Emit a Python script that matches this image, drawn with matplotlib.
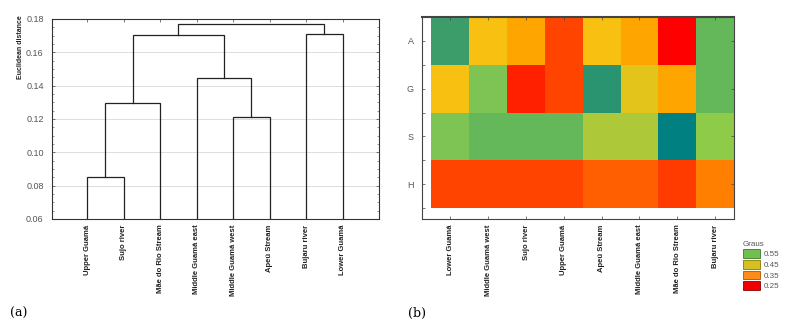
import numpy as np
import matplotlib
matplotlib.use("Agg")
import matplotlib.pyplot as plt
from matplotlib.colors import LinearSegmentedColormap, Normalize
from matplotlib.patches import Patch
from matplotlib.ticker import MultipleLocator

plt.rcParams["font.family"] = ["Liberation Sans", "DejaVu Sans"]

# ---------------- data ----------------
dendro_leaves = ["Upper Guamá", "Sujo river", "Mãe do Rio Stream", "Middle Guamá east",
                 "Middle Guamá west", "Apeú Stream", "Bujaru river", "Lower Guamá"]
# merges: (node a, node b, height); leaves are 0..7, new nodes numbered from 8
merge_a = [0, 8, 4, 3, 9, 6, 12]
merge_b = [1, 2, 5, 10, 11, 7, 13]
merge_h = [0.0852, 0.1298, 0.1214, 0.1444, 0.1702, 0.1710, 0.1768]

heat_cols = ["Lower Guamá", "Middle Guamá west", "Sujo river", "Upper Guamá",
             "Apeú Stream", "Middle Guamá east", "Mãe do Rio Stream", "Bujaru river"]
heat_rows = ["A", "G", "S", "H"]
row_A = [0.61, 0.44, 0.40, 0.30, 0.44, 0.40, 0.22, 0.56]
row_G = [0.44, 0.53, 0.26, 0.30, 0.63, 0.46, 0.40, 0.56]
row_S = [0.53, 0.56, 0.56, 0.56, 0.50, 0.50, 0.70, 0.52]
row_H = [0.30, 0.30, 0.30, 0.30, 0.33, 0.33, 0.29, 0.36]

legend_title = "Graus"
legend_labels = ["0.55", "0.45", "0.35", "0.25"]
legend_colors = ["#70c050", "#d4c020", "#ff8c1a", "#f00000"]
legend_edges = ["#3a7a2a", "#8a7a00", "#b05000", "#900000"]

# ---------------- figure ----------------
fig = plt.figure(figsize=(7.99, 3.28), dpi=100)
W, H = 799, 328

def ax_rect(l, r, t, b):
    return [l / W, (H - b) / H, (r - l) / W, (b - t) / H]

tick_col = "#555555"
lab_fs = 5.5
ytick_fs = 6.5

# ---- (a) dendrogram ----
ax1 = fig.add_axes(ax_rect(52, 379, 19, 219))
xpos = {i: float(i + 1) for i in range(len(dendro_leaves))}
ypos = {i: 0.06 for i in range(len(dendro_leaves))}
for k, (a, b, h) in enumerate(zip(merge_a, merge_b, merge_h)):
    xa, xb = xpos[a], xpos[b]
    ax1.plot([xa, xa, xb, xb], [ypos[a], h, h, ypos[b]], color="#222222", lw=0.9,
             solid_joinstyle="miter", zorder=3)
    node = len(dendro_leaves) + k
    xpos[node] = (xa + xb) / 2
    ypos[node] = h

ax1.set_xlim(0.04, 9.0)
ax1.set_ylim(0.06, 0.18)
ax1.yaxis.set_minor_locator(MultipleLocator(0.005))
yt = np.arange(0.06, 0.1801, 0.02)
ax1.set_yticks(yt)
ax1.set_yticklabels([f"{v:.2f}" for v in yt], fontsize=ytick_fs, color=tick_col)
ax1.set_xticks(np.arange(1, len(dendro_leaves) + 1))
ax1.set_xticklabels(dendro_leaves, rotation=90, fontsize=lab_fs, fontweight="bold", color="#222222")
ax1.grid(axis="y", color="#d8d8d8", lw=0.6, zorder=0)
ax1.tick_params(axis="both", direction="in", top=True, right=True, length=2, width=0.5,
                colors="#444444")
ax1.tick_params(axis="y", labelcolor=tick_col, pad=6)
ax1.tick_params(axis="x", labelcolor="#222222", pad=4)
ax1.tick_params(which="minor", direction="in", length=1.2, width=0.4, right=True, colors="#444444")
for s in ax1.spines.values():
    s.set_color("#333333")
    s.set_linewidth(0.8)
fig.text(20 / W, 1 - 15 / H, "Euclidean distance", rotation=90, fontsize=5.0,
         fontweight="bold", va="top", ha="center", color="#222222")

# ---- (b) heat map ----
vmin, vmax = 0.22, 0.70
anchors = [(0.22, "#ff0000"), (0.26, "#ff2000"), (0.30, "#ff4500"), (0.33, "#ff6000"),
           (0.36, "#ff8000"), (0.40, "#ffa500"), (0.44, "#f8c010"), (0.46, "#e3c41a"),
           (0.50, "#aec93a"), (0.52, "#90cc48"), (0.53, "#7ec454"), (0.56, "#66b85a"),
           (0.61, "#3e9e6a"), (0.63, "#2a9470"), (0.70, "#008080")]
cmap = LinearSegmentedColormap.from_list(
    "graus", [((v - vmin) / (vmax - vmin), c) for v, c in anchors])
norm = Normalize(vmin, vmax)

ax2 = fig.add_axes(ax_rect(422, 734, 17, 219))
Z = np.array([row_A, row_G, row_S, row_H])
ax2.pcolormesh(np.arange(len(heat_cols) + 1), np.arange(len(heat_rows) + 1), Z,
               cmap=cmap, norm=norm, shading="flat")
ax2.set_xlim(-0.25, len(heat_cols))
ax2.set_ylim(len(heat_rows) + 0.23, 0)
ax2.set_xticks(np.arange(len(heat_cols)) + 0.5)
ax2.set_xticklabels(heat_cols, rotation=90, fontsize=lab_fs, fontweight="bold", color="#222222")
ax2.set_yticks(np.arange(len(heat_rows)) + 0.5)
ax2.set_yticklabels(heat_rows, fontsize=ytick_fs, color=tick_col)
ax2.set_yticks(np.arange(1, len(heat_rows) + 1), minor=True)
ax2.tick_params(axis="both", direction="in", top=True, right=True, length=2, width=0.5,
                colors="#444444")
ax2.tick_params(axis="y", labelcolor=tick_col, pad=6)
ax2.tick_params(axis="x", labelcolor="#222222", pad=4)
ax2.tick_params(which="minor", direction="in", length=2, width=0.5, left=True, colors="#444444")
for s in ax2.spines.values():
    s.set_color("#444444")
    s.set_linewidth(0.8)
ax2.spines["top"].set_linewidth(1.5)

handles = [Patch(facecolor=c, edgecolor=e, linewidth=0.6) for c, e in zip(legend_colors, legend_edges)]
leg = fig.legend(handles, legend_labels, title=legend_title, loc="upper left",
                 bbox_to_anchor=(737 / W, 1 - 235 / H), frameon=False, fontsize=5.8,
                 title_fontsize=5.8, handlelength=2.2, handleheight=1.3, handletextpad=0.4,
                 labelspacing=0.2, borderpad=0.2, labelcolor="#555555")
leg.get_title().set_color("#555555")
leg._legend_box.align = "left"

fig.text(10 / W, 1 - 313 / H, "(a)", fontsize=9, family="DejaVu Serif", va="center")
fig.text(408 / W, 1 - 313 / H, "(b)", fontsize=9, family="DejaVu Serif", va="center")

fig.savefig("out.png", dpi=100)
